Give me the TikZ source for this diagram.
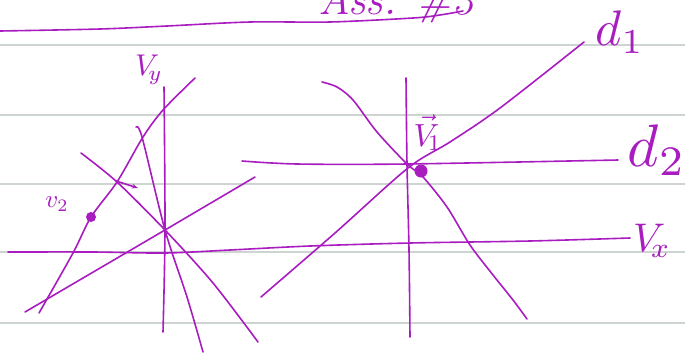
\documentclass[tikz,border=0pt]{standalone}
\usepackage{tikz}
\usetikzlibrary{arrows.meta,positioning,calc}
\definecolor{inkpurple}{RGB}{168,28,192}
\definecolor{rulegray}{RGB}{205,212,210}
\begin{document}
\begin{tikzpicture}[
    x=1pt, y=-1pt,
    pen/.style={draw=inkpurple, line width=1.6pt, line cap=round, line join=round},
    rule/.style={draw=rulegray, line width=1.3pt},
    hand/.style={text=inkpurple, inner sep=0pt},
    inkdot/.style={circle, fill=inkpurple, inner sep=0pt, minimum size=#1},
    arrow/.style={pen, -{Stealth[length=6pt]}}
]
\useasboundingbox (0,0) rectangle (685,354);
\fill[white] (0,0) rectangle (685,354);

% --- RULED PAPER ---
\foreach \y in {45,115,184,252,323}
  \draw[rule] (0,\y) -- (685,\y);

% --- HEADER (cut off at the top edge) ---
\node (title) [hand, anchor=base west, font=\fontsize{44}{44}\selectfont\itshape] at (318,14) {Ass. \#3};
\draw[pen] plot[smooth] coordinates {(0,31) (100,29) (167,26) (250,22) (330,22) (413,18) (440,15) (463,11)};

% --- LEFT SKETCH ---
\coordinate (lcross) at (165,230);
\draw[pen] plot[smooth] coordinates {(164,87) (165,230) (163,332)};
\draw[pen] plot[smooth] coordinates {(39,313) (73,253) (91,217) (117,182) (143,137) (163,110) (195,78)};
\draw[pen] (25,312) -- (lcross) -- (255,177);
\draw[pen] plot[smooth] coordinates {(81,153) (117,182) (lcross) (213,283) (258,342)};
\draw[pen] plot[smooth] coordinates {(136,127) (142,137) (lcross) (187,297) (203,352)};
\node (vy) [hand] at (149,70) {\scalebox{3}{$V_{\!y}$}};
\node (vtwo) [inkdot=10pt] at (91,217) {};
\node (vtwolbl) [hand] at (57,204) {\scalebox{2.5}{$v_2$}};
\coordinate (arrowtail) at (116,181);
\coordinate (arrowhead) at (138,188);
\draw[arrow] (arrowtail) -- (arrowhead);

% --- HORIZONTAL AXIS (shared) ---
\draw[pen] plot[smooth] coordinates {(8,252) (93,252) (165,253) (230,250) (310,246) (410,243) (530,241) (630,238)};
\node (vx) [hand] at (652,241) {\scalebox{4}{$V_{\!x}$}};

% --- RIGHT SKETCH ---
\coordinate (rcross) at (407,164);
\draw[pen] plot[smooth] coordinates {(406,78) (rcross) (409,250) (410,337)};
\draw[pen] plot[smooth] coordinates {(242,161) (297,164) (rcross) (618,160)};
\draw[pen] plot[smooth] coordinates {(261,297) (335,233) (408,168) (450,142) (500,108) (584,42)};
\draw[pen] plot[smooth] coordinates {(322,82) (337,87) (353,100) (377,132) (rcross) (423,177) (447,207) (470,245) (493,275) (513,300) (527,319)};
\node (vone) [inkdot=13pt] at (421,171) {};
\node (vonelbl) [hand] at (428,133) {\scalebox{3.2}{$\vec{V}_{\!1}$}};
\node (done) [hand] at (620,32) {\scalebox{5}{$d_1$}};
\node (dtwo) [hand] at (657,150) {\scalebox{6}{$d_2$}};

\end{tikzpicture}
\end{document}
